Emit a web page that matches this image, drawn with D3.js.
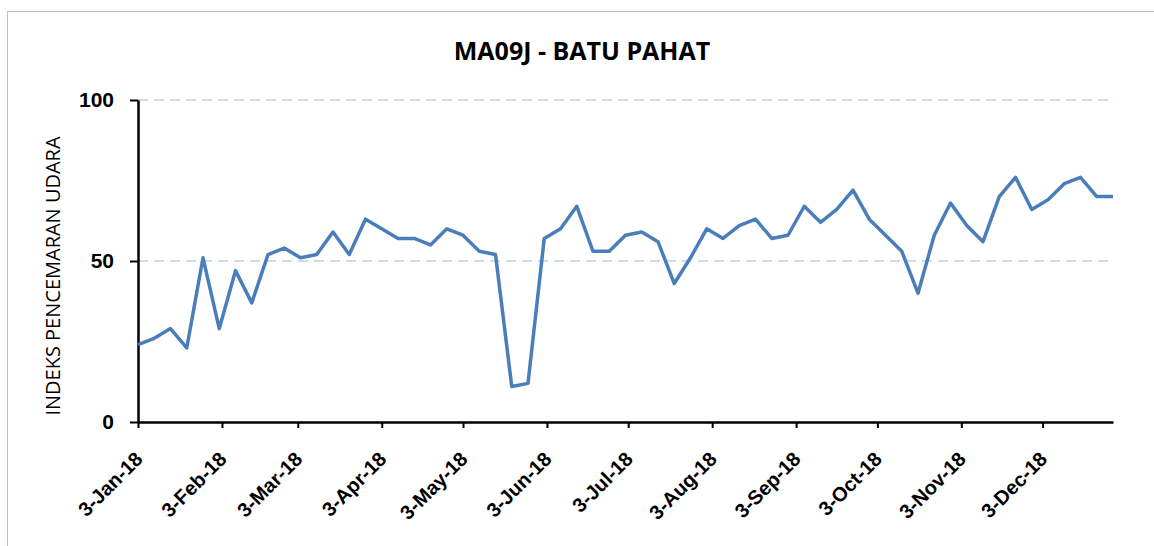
<!DOCTYPE html>
<html>
<head>
<meta charset="utf-8">
<script src="https://cdn.jsdelivr.net/npm/d3@7"></script>
<style>
  body { margin: 0; background: #fff; }
  svg { display: block; font-family: "Open Sans", "Noto Sans", sans-serif; }
</style>
</head>
<body>
<div id="chart"></div>
<script>
// readings every 6 days, 3-Jan-18 to 29-Dec-18
let startDate = "2018-01-03";
let stepDays = 6;
let ipuValues = [24, 26, 29, 23, 51, 29, 47, 37, 52, 54, 51, 52, 59, 52, 63, 60, 57, 57, 55, 60,
                 58, 53, 52, 11, 12, 57, 60, 67, 53, 53, 58, 59, 56, 43, 51, 60, 57, 61, 63, 57,
                 58, 67, 62, 66, 72, 63, 58, 53, 40, 58, 68, 61, 56, 70, 76, 66, 69, 74, 76, 70, 70];
let tickDates = ["2018-01-03", "2018-02-03", "2018-03-03", "2018-04-03", "2018-05-03", "2018-06-03",
                 "2018-07-03", "2018-08-03", "2018-09-03", "2018-10-03", "2018-11-03", "2018-12-03"];
let yTicks = [0, 50, 100];
let chartTitle = "MA09J - BATU PAHAT";
let yTitle = "INDEKS PENCEMARAN UDARA";

let parseDate = d3.utcParse("%Y-%m-%d");
let data = ipuValues.map(function(v, i) {
    return { date: d3.utcDay.offset(parseDate(startDate), i * stepDays), value: v };
});

let width = 1154, height = 546;
let margin = {top: 100, right: 41, bottom: 124, left: 138};

let svg = d3.select("#chart").append("svg")
    .attr("width", width)
    .attr("height", height);

// outer chart frame
svg.append("rect")
    .attr("x", 7.5).attr("y", 11.5)
    .attr("width", width).attr("height", height)
    .attr("fill", "none").attr("stroke", "#bfbfbf").attr("stroke-width", 1);

let x = d3.scaleUtc()
    .domain(d3.extent(data, d => d.date))
    .range([margin.left, width - margin.right]);
let y = d3.scaleLinear()
    .domain([0, 100])
    .range([height - margin.bottom, margin.top]);

// dashed gridlines
svg.append("g")
    .selectAll("line")
    .data(yTicks.filter(d => d > 0))
    .enter().append("line")
    .attr("x1", margin.left).attr("x2", width - margin.right)
    .attr("y1", d => y(d)).attr("y2", d => y(d))
    .attr("stroke", "#bdd0e9").attr("stroke-width", 1.3)
    .attr("stroke-dasharray", "10,6");

// x axis
let xAxis = svg.append("g")
    .attr("transform", "translate(0," + y(0) + ")")
    .call(d3.axisBottom(x)
        .tickValues(tickDates.map(parseDate))
        .tickFormat(d3.utcFormat("%-d-%b-%y"))
        .tickSize(6).tickSizeOuter(0));
xAxis.select(".domain").attr("stroke", "#000").attr("stroke-width", 2.5);
xAxis.selectAll(".tick line").attr("stroke", "#000").attr("stroke-width", 2);
xAxis.selectAll(".tick text")
    .attr("font-size", 20).attr("font-weight", "bold").attr("fill", "#000")
    .attr("text-anchor", "end")
    .attr("dx", 0).attr("dy", 0)
    .attr("transform", "translate(-1,32) rotate(-45)");

// y axis
let yAxis = svg.append("g")
    .attr("transform", "translate(" + margin.left + ",0)")
    .call(d3.axisLeft(y).tickValues(yTicks).tickSize(8).tickSizeOuter(0).tickPadding(16));
yAxis.select(".domain").attr("stroke", "#000").attr("stroke-width", 2.5);
yAxis.selectAll(".tick line").attr("stroke", "#000").attr("stroke-width", 2);
yAxis.selectAll(".tick text")
    .attr("font-size", 21).attr("font-weight", "bold").attr("fill", "#000");

// line
let line = d3.line()
    .x(d => x(d.date))
    .y(d => y(d.value));

svg.append("path")
    .datum(data)
    .attr("fill", "none")
    .attr("stroke", "#4a7ebb")
    .attr("stroke-width", 3.5)
    .attr("stroke-linejoin", "round")
    .attr("d", line);

// titles
svg.append("text")
    .attr("x", 582).attr("y", 60)
    .attr("text-anchor", "middle")
    .attr("font-size", 25).attr("font-weight", "bold").attr("fill", "#000")
    .text(chartTitle);

svg.append("text")
    .attr("transform", "translate(60," + ((y(0) + y(100)) / 2 + 15) + ") rotate(-90)")
    .attr("text-anchor", "middle")
    .attr("font-size", 20).attr("fill", "#000")
    .text(yTitle);
</script>
</body>
</html>
